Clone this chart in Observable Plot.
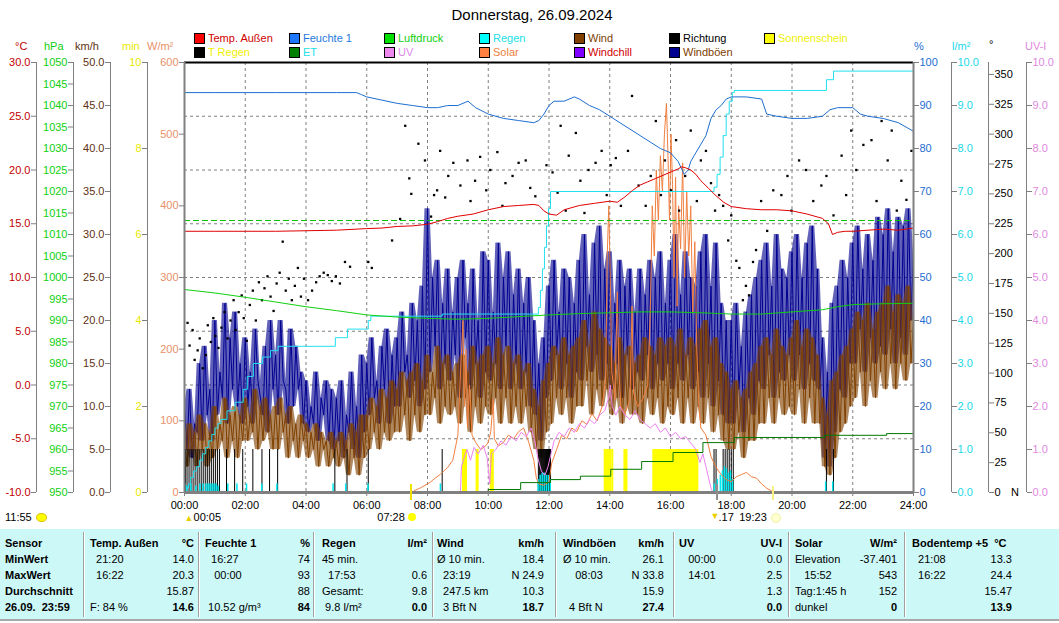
<!DOCTYPE html>
<html><head><meta charset="utf-8">
<script src="https://cdn.jsdelivr.net/npm/d3@7"></script>
<script src="https://cdn.jsdelivr.net/npm/@observablehq/plot@0.6"></script>
<style>
body{margin:0;background:#fff;}
#root{position:relative;width:1059px;height:623px;font-family:"Liberation Sans",Arial,sans-serif;font-size:11px;overflow:hidden;background:#fff;}
#root > svg{position:absolute;left:0;top:0;}
.t{position:absolute;white-space:pre;line-height:14px;}
.sq{position:absolute;width:9px;height:9px;border:1px solid #000;}
</style></head><body><div id="root"></div>
<script>
(function(){
// ---------------- DATA ----------------
const hourTicks = [0,120,240,360,480,600,720,840,960,1080,1200,1320,1440];
const gridHours = [120,240,360,480,600,720,840,960,1080,1200,1320];
const tempTicks = [-10,-5,0,5,10,15,20,25,30];
const gridTemps = [-5,0,5,10,15,20,25];
const hpaTicks = d3.range(950,1051,5);
const kmhTicks = d3.range(0,51,5);
const minTicks = [0,2,4,6,8,10];
const solarTicks = [0,100,200,300,400,500,600];
const humTicks = d3.range(0,101,10);
const rainTicks = d3.range(0,11,1);
const dirTicks = d3.range(0,351,25);
const uvTicks = d3.range(0,11,1);

// temperature [minute, °C]
const temp = [[0,14.3],[60,14.3],[120,14.3],[180,14.3],[240,14.35],[300,14.4],[360,14.55],[390,14.6],[420,14.75],[450,14.8],[480,14.95],[500,15.2],[520,15.5],[540,15.7],[570,15.9],[600,16.3],[630,16.6],[660,16.7],[690,16.8],[700,16.7],[710,16.2],[720,15.9],[735,15.8],[750,16.3],[780,16.7],[810,16.9],[840,17.1],[855,17.0],[870,17.5],[885,18.1],[900,18.6],[915,18.9],[930,19.2],[945,19.5],[960,19.8],[975,20.1],[982,20.3],[990,20.2],[1000,20.0],[1010,19.6],[1020,19.0],[1035,18.3],[1050,17.6],[1065,17.0],[1080,16.6],[1110,16.4],[1140,16.3],[1170,16.3],[1200,16.2],[1230,15.9],[1260,15.5],[1272,15.0],[1280,14.0],[1290,14.2],[1305,14.3],[1320,14.3],[1350,14.4],[1380,14.5],[1410,14.4],[1440,14.6]];
// humidity [minute, %]
const hum = [[0,93],[60,93],[120,93],[180,93],[240,93],[300,93],[340,93],[350,92.5],[360,92],[380,91.5],[400,91],[420,90.5],[450,90],[480,89.5],[500,89.5],[520,90],[540,90],[560,91],[575,89.5],[600,88],[630,87],[660,86.5],[690,86],[700,86.5],[710,88],[720,90],[730,91],[750,91],[770,92],[780,91.5],[800,90],[820,89],[840,87.5],[860,86],[880,84.5],[900,83],[920,81.5],[940,80],[960,79],[975,77],[987,74],[995,75],[1000,77],[1010,79],[1020,81],[1030,83],[1040,87],[1050,89],[1060,90],[1070,91.5],[1080,92],[1110,92],[1140,91.5],[1150,88],[1170,87.5],[1200,87],[1230,87],[1260,87.5],[1275,89],[1290,89.5],[1320,89.5],[1335,88],[1350,87.5],[1380,87],[1410,86],[1440,84]];
// pressure [minute, hPa]
const press = [[0,997.2],[60,996.4],[120,995.4],[180,994.3],[240,993.2],[300,992.3],[360,991.3],[420,990.8],[480,990.5],[540,990.3],[600,990.5],[660,990.9],[720,991.3],[780,991.6],[840,991.8],[900,992.0],[960,992.0],[1020,991.8],[1080,991.5],[1140,991.5],[1200,992.0],[1260,992.5],[1290,993.2],[1320,993.7],[1380,993.9],[1440,994.0]];
const stdPressure = [1013.25];
// cumulative rain [minute, l/m²]
const rainSum = [[0,0],[4,0.1],[8,0.2],[12,0.35],[18,0.5],[24,0.6],[30,0.75],[36,0.9],[42,1.05],[48,1.2],[54,1.35],[60,1.5],[66,1.6],[72,1.7],[84,1.9],[100,2.1],[116,2.4],[124,2.7],[136,3.0],[154,3.15],[170,3.3],[185,3.4],[298,3.6],[322,3.8],[363,4.0],[368,4.1],[509,4.15],[699,4.3],[703,4.7],[707,5.2],[711,5.7],[715,6.2],[719,6.6],[723,7.0],[1046,7.1],[1052,7.4],[1058,7.8],[1064,8.3],[1070,8.8],[1076,9.1],[1082,9.3],[1086,9.35],[1268,9.6],[1282,9.8],[1440,9.8]];
// rain per interval [minute, l/m²]
const rainBars = [[0,0.2],[4,0.15],[12,0.2],[22,0.15],[30,0.2],[36,0.2],[42,0.2],[46,0.2],[50,0.2],[54,0.2],[58,0.2],[62,0.2],[66,0.15],[85,0.2],[103,0.2],[122,0.2],[152,0.2],[182,0.2],[293,0.2],[318,0.2],[362,0.2],[505,0.2],[698,0.3],[702,0.4],[706,0.45],[710,0.45],[714,0.4],[718,0.4],[722,0.3],[1046,0.2],[1052,0.3],[1058,0.4],[1062,0.5],[1066,0.6],[1070,0.55],[1074,0.45],[1078,0.5],[1082,0.3],[1266,0.25],[1280,0.25]];
// rain minutes (T Regen)
const rainMinutes = [2,5,9,13,17,21,25,29,33,37,41,45,49,53,57,61,65,69,83,99,115,135,153,168,184,297,321,363,509,699,701,703,705,707,709,711,713,715,717,719,721,723,1046,1050,1064,1068,1072,1076,1080,1084,1268,1282];
// evapotranspiration [minute, l/m²]
const et = [[0,0],[539,0],[600,0.07],[664,0.23],[723,0.30],[782,0.38],[842,0.54],[903,0.72],[965,0.93],[1024,1.16],[1086,1.28],[1264,1.33],[1387,1.37],[1440,1.37]];
// sunshine intervals [start, end] minutes (1 min per minute)
const sunStart = [549,576,604,829,844,868,925];
const sunEnd   = [559,582,612,844,848,876,1016];
// solar radiation [minute, W/m²]
const solar = [[0,0],[448,0],[455,3],[465,6],[475,10],[485,14],[495,20],[505,25],[512,30],[520,35],[530,45],[540,80],[546,180],[550,240],[553,120],[556,200],[559,90],[563,150],[568,80],[575,70],[585,60],[595,65],[600,70],[605,85],[610,130],[612,75],[620,65],[630,70],[640,80],[650,75],[660,85],[670,90],[680,70],[690,45],[695,20],[700,12],[710,10],[720,15],[725,40],[735,60],[745,80],[755,75],[765,90],[775,85],[785,100],[795,95],[805,110],[815,100],[825,120],[832,160],[835,330],[838,400],[841,300],[844,170],[850,130],[855,280],[858,170],[862,120],[870,110],[880,130],[884,260],[887,140],[895,120],[905,130],[915,150],[920,250],[924,400],[928,330],[932,450],[936,380],[940,470],[944,420],[948,500],[952,543],[955,470],[958,380],[961,500],[964,430],[967,300],[970,440],[973,260],[976,400],[980,340],[984,460],[988,300],[992,420],[996,330],[1000,400],[1004,250],[1008,350],[1012,200],[1016,120],[1020,90],[1030,80],[1040,50],[1050,35],[1060,25],[1070,18],[1080,15],[1090,22],[1100,25],[1110,28],[1120,22],[1130,20],[1140,12],[1150,6],[1160,2],[1163,0],[1440,0]];
// UV index [minute, UV-I]
const uv = [[545,0],[547,0.6],[552,0.8],[558,1.0],[565,0.75],[572,1.05],[580,0.9],[590,1.1],[598,0.8],[603,0.2],[606,0.9],[615,1.0],[625,1.2],[635,1.1],[645,1.3],[655,1.2],[665,1.4],[675,1.3],[685,1.5],[692,1.2],[698,0.8],[705,0.5],[712,0.4],[718,0.6],[724,0.9],[730,1.2],[740,1.4],[750,1.3],[760,1.5],[770,1.4],[780,1.6],[790,1.5],[800,1.7],[810,1.6],[820,1.8],[830,1.9],[838,2.2],[841,2.5],[845,2.0],[852,1.8],[860,2.0],[870,1.8],[880,1.7],[890,1.9],[900,1.7],[910,1.6],[920,1.5],[930,1.6],[940,1.4],[950,1.5],[960,1.3],[970,1.4],[980,1.25],[990,1.3],[1000,1.15],[1010,1.0],[1018,0.7],[1024,0.9],[1030,0.6],[1036,0.3],[1040,0.1],[1044,0]];
// wind direction [minute, degrees]
const dir = [[6,142],[10,123],[16,136],[20,111],[26,119],[30,129],[36,104],[42,115],[46,140],[52,126],[57,146],[61,131],[67,121],[73,138],[79,151],[85,129],[91,144],[97,161],[101,136],[107,151],[113,165],[117,146],[123,127],[129,157],[135,169],[141,144],[147,176],[153,161],[158,171],[164,181],[170,164],[176,152],[182,175],[188,184],[194,210],[200,169],[206,179],[212,161],[218,173],[224,188],[230,164],[236,179],[244,161],[252,169],[260,176],[267,181],[275,184],[283,182],[291,177],[299,181],[307,175],[317,193],[327,189],[363,193],[370,188],[410,211],[426,229],
[436,307],[444,263],[448,250],[462,292],[475,278],[487,231],[493,249],[499,253],[505,286],[515,247],[521,265],[531,276],[545,257],[559,278],[565,244],[574,261],[584,281],[596,253],[604,270],[618,285],[628,240],[634,259],[648,265],[660,276],[674,278],[683,255],[693,248],[715,274],[727,268],[737,251],[743,307],[753,236],[759,282],[773,301],[782,261],[790,234],[798,270],[812,276],[824,286],[834,249],[842,274],[852,280],[862,240],[876,286],[884,332],[897,257],[911,240],[921,265],[931,311],[941,249],[949,278],[961,253],[971,295],[977,236],[989,265],[1000,303],[1012,244],[1020,278],[1030,286],[1040,259],[1048,236],[1056,249],[1064,240],[1074,211],[1080,232],[1090,194],[1096,188],[1103,161],[1109,173],[1115,165],[1123,193],[1129,203],[1139,244],[1151,219],[1163,253],[1179,249],[1191,265],[1199,236],[1214,278],[1228,270],[1242,244],[1258,257],[1268,265],[1282,232],[1298,282],[1307,249],[1317,303],[1327,270],[1341,291],[1357,295],[1367,244],[1377,311],[1389,278],[1397,303],[1407,236],[1416,261],[1426,245],[1436,286]];
// wind and gusts, km/h, one value every 5 minutes from 00:00 to 24:00
const windStep = 5;
const windKmh = [
6,3,8,5,7,3,9,5,8,3,7,4,
10,5,8,6,11,4,9,6,10,4,9,6,
11,6,9,7,12,5,10,6,11,7,9,5,
10,5,11,7,9,4,10,6,8,4,9,6,
8,4,7,5,8,3,7,5,6,3,7,4,
6,3,7,4,6,2,8,4,7,2,9,4,
9,5,11,7,10,5,12,7,11,6,13,7,
12,7,14,9,13,6,14,9,15,7,13,9,
16,9,14,11,17,8,15,10,16,9,14,10,
15,8,16,11,14,7,17,10,15,8,16,10,
17,9,15,11,18,8,16,11,17,8,15,10,
16,8,14,10,15,7,12,5,10,4,13,7,
15,8,17,11,16,9,18,11,16,8,17,10,
18,10,20,13,17,9,21,12,19,10,18,12,
17,9,15,11,18,8,16,10,17,9,15,9,
16,8,18,11,17,9,16,11,18,8,17,10,
18,9,17,11,19,8,16,11,18,8,17,10,
19,8,20,11,17,7,18,9,15,6,14,5,
12,5,13,7,11,4,12,6,14,6,15,8,
17,8,18,11,16,8,19,11,17,9,16,10,
18,9,20,12,17,8,19,11,18,8,16,8,
11,3,9,2,13,4,14,7,16,8,17,10,
19,11,21,14,20,10,22,13,19,11,21,14,
22,12,24,15,21,12,23,15,22,13,24,15,
20];
const gustKmh = [
10,5,12,4,8,7,15,6,17,9,12,6,
20,9,14,11,22,8,18,12,21,10,15,8,
18,10,14,8,19,13,11,9,17,7,20,12,
16,9,20,13,12,8,19,10,17,12,14,8,
13,7,10,8,14,6,11,9,13,6,12,5,
11,6,13,4,9,7,14,5,10,4,16,7,
15,9,18,11,13,8,17,12,19,8,16,10,
18,10,21,14,16,11,22,13,20,10,24,12,
33,14,25,17,27,12,22,15,26,13,21,16,
25,11,27,18,22,12,26,15,20,11,28,14,
27,13,21,15,29,12,25,17,28,12,23,15,
26,12,22,14,25,10,20,9,15,6,18,11,
24,13,27,16,21,12,26,15,25,11,22,14,
27,13,30,17,23,14,29,16,31,13,26,15,
28,12,22,15,27,11,24,16,26,12,21,14,
26,13,23,16,27,12,25,15,28,13,22,15,
27,12,30,15,23,13,28,16,25,12,24,14,
28,11,30,15,24,10,29,13,22,9,20,8,
20,8,22,12,17,7,21,11,23,9,25,13,
27,12,29,16,24,11,30,14,26,13,25,16,
28,13,30,16,25,12,29,15,31,13,26,12,
18,4,14,3,22,7,24,12,27,11,25,15,
29,15,31,19,26,14,30,18,27,15,32,17,
30,16,33,19,28,15,32,18,31,16,33,20,
28];

// legend
const legendNames = ["Temp. Außen","Feuchte 1","Luftdruck","Regen","Wind","Richtung","Sonnenschein","T Regen","ET","UV","Solar","Windchill","Windböen"];
const legendBox = ["#ff0000","#1e78ff","#00e000","#00ffff","#804000","#000000","#ffff00","#000000","#008000","#ee88ee","#ff8040","#8000ff","#000090"];
const legendText = ["#d00000","#1e78e0","#10d010","#20e0e8","#804000","#000000","#f0f000","#f0f000","#20e0e8","#e088e8","#f08040","#d00000","#804000"];

// table
const tblHead = ["Sensor","Temp. Außen","Feuchte 1","Regen","Wind","Windböen","UV","Solar","Bodentemp +5  °C"];
const tblUnit = ["","°C","%","l/m²","km/h","km/h","UV-I","W/m²",""];
const tblLeft = [
 ["MinWert","MaxWert","Durchschnitt","26.09.  23:59"],
 ["  21:20","  16:22","","F: 84 %"],
 ["  16:27","   00:00",""," 10.52 g/m³"],
 ["45 min.","  17:53","Gesamt:"," 9.8 l/m²"],
 ["Ø 10 min.","  23:19","  247.5 km","  3 Bft N"],
 ["Ø 10 min.","    08:03","","  4 Bft N"],
 ["   00:00","   14:01","",""],
 ["Elevation","   15:52","Tag:1:45 h","dunkel"],
 ["  21:08","  16:22","",""]];
const tblRight = [
 ["","","",""],
 ["14.0","20.3","15.87","14.6"],
 ["74","93","88","84"],
 ["","0.6","9.8","0.0"],
 ["18.4","N 24.9","10.3","18.7"],
 ["26.1","N 33.8","15.9","27.4"],
 ["0.0","2.5","1.3","0.0"],
 ["-37.401","543","152","0"],
 ["13.3","24.4","15.47","13.9"]];

// ---------------- LAYOUT ----------------
const W = 1059, H = 623;
const root = document.getElementById("root");
const FONT = "'Liberation Sans', Arial, sans-serif";
const GRAY = "#808080";
const hhmm = m => String(Math.floor(m/60)).padStart(2,"0") + ":" + String(m%60).padStart(2,"0");

function layer(domain, marks) {
  const svg = Plot.plot({
    width: W, height: H, marginTop: 62, marginBottom: 131, marginLeft: 184, marginRight: 146,
    x: {domain: [0, 1440], axis: null},
    y: {domain, axis: null},
    style: {background: "transparent", fontFamily: FONT, fontSize: "11px", color: "black"},
    marks
  });
  root.appendChild(svg);
  return svg;
}
function yAxis(ticks, fmt, side, dx, fill, line = true) {
  const m = [Plot.axisY(ticks, {anchor: side, dx, tickSize: 5, tickPadding: 1, tickFormat: fmt, stroke: GRAY, fill, label: null, fontSize: 11})];
  if (line) m.unshift(Plot.ruleX([side === "left" ? 0 : 1440], {dx, stroke: GRAY, strokeWidth: 1}));
  return m;
}
const f1 = d => d.toFixed(1), f0 = d => String(d);
// envelope of neighbouring readings, used to shade the dense wind traces
const envelope = (arr, f) => arr.map((d, i) => f(arr[Math.max(0, i - 1)], d, arr[Math.min(arr.length - 1, i + 1)]));
const gustLo = envelope(gustKmh, Math.min), gustHi = envelope(gustKmh, Math.max);
const windLo = envelope(windKmh, Math.min), windHi = envelope(windKmh, Math.max);

// grid
layer([-10, 30], [
  Plot.ruleX(gridHours, {stroke: GRAY, strokeDasharray: "3,3"}),
  Plot.ruleY(gridTemps, {stroke: GRAY, strokeDasharray: "3,3"})
]);
// gusts & wind (km/h)
layer([0, 50], [
  Plot.areaY(gustKmh, {x: (d, i) => i * windStep, y1: (d, i) => gustLo[i], y2: (d, i) => gustHi[i], fill: "#000090", fillOpacity: 0.62}),
  Plot.line(gustKmh, {x: (d, i) => i * windStep, y: d => d, stroke: "#000090", strokeWidth: 1}),
  Plot.areaY(windKmh, {x: (d, i) => i * windStep, y1: (d, i) => windLo[i], y2: (d, i) => windHi[i], fill: "#804000", fillOpacity: 0.62}),
  Plot.line(windKmh, {x: (d, i) => i * windStep, y: d => d, stroke: "#804000", strokeWidth: 1}),
  ...yAxis(kmhTicks, f1, "left", -74, "#603010")
]);
// sunshine + rain minutes (min scale)
layer([0, 10], [
  Plot.rect(sunStart, {x1: d => d, x2: (d, i) => sunEnd[i], y1: 0, y2: 1, fill: "#ffff00"}),
  Plot.ruleX(rainMinutes, {y1: 0, y2: 1, stroke: "black", strokeWidth: 1}),
  ...yAxis(minTicks, f0, "left", -37, "#e8e800")
]);
// rain bars (l/m²)
layer([0, 10], [
  Plot.rect(rainBars, {x1: d => d[0], x2: d => d[0] + 3, y1: 0, y2: d => d[1], fill: "#00e8f0"})
]);
// solar
layer([0, 600], [
  Plot.line(solar, {x: d => d[0], y: d => d[1], stroke: "#f08040", strokeWidth: 1}),
  ...yAxis(solarTicks, f0, "left", 0, "#e8906a", false)
]);
// UV
layer([0, 10], [
  Plot.line(uv, {x: d => d[0], y: d => d[1], stroke: "#ee82ee", strokeWidth: 1}),
  ...yAxis(uvTicks, f1, "right", 113, "#e088e0")
]);
// direction
layer([0, 360], [
  Plot.dot(dir, {x: d => d[0], y: d => d[1], symbol: "square", r: 1.3, fill: "black", stroke: "none"}),
  ...yAxis(dirTicks, f0, "right", 75, "black")
]);
// ET + cumulative rain
layer([0, 10], [
  Plot.line(et, {x: d => d[0], y: d => d[1], curve: "step-after", stroke: "#007800", strokeWidth: 1}),
  Plot.line(rainSum, {x: d => d[0], y: d => d[1], curve: "step-after", stroke: "#20e0f0", strokeWidth: 1}),
  ...yAxis(rainTicks, f1, "right", 38, "#20d8e8")
]);
// pressure
layer([950, 1050], [
  Plot.ruleY(stdPressure, {stroke: "#00c000", strokeDasharray: "6,3"}),
  Plot.line(press, {x: d => d[0], y: d => d[1], stroke: "#10d010", strokeWidth: 1}),
  ...yAxis(hpaTicks, f0, "left", -111, "#10d010")
]);
// humidity
layer([0, 100], [
  Plot.line(hum, {x: d => d[0], y: d => d[1], stroke: "#1e6ed2", strokeWidth: 1}),
  ...yAxis(humTicks, f0, "right", 0, "#1e6ed2", false)
]);
// temperature + frame + time axis
const mainLayer = layer([-10, 30], [
  Plot.line(temp, {x: d => d[0], y: d => d[1], stroke: "#e00000", strokeWidth: 1}),
  ...yAxis(tempTicks, f1, "left", -148, "#c00000"),
  Plot.ruleY([30], {stroke: "black", strokeWidth: 2}),
  Plot.ruleY([-10], {stroke: GRAY, strokeWidth: 3}),
  Plot.ruleX([0], {stroke: GRAY, strokeWidth: 2}),
  Plot.ruleX([1440], {stroke: GRAY, strokeWidth: 2}),
  Plot.axisX(hourTicks, {anchor: "bottom", tickSize: 4, tickPadding: 5, tickFormat: hhmm, stroke: GRAY, fill: "black", label: null, fontSize: 11})
]);
const xs = mainLayer.scale("x");

// ---------------- TEXT OVERLAYS ----------------
function txt(s, x, y, o = {}) {
  const el = document.createElement("div");
  el.className = "t";
  el.textContent = s;
  el.style.top = (y - 7) + "px";
  if (o.right) el.style.right = (W - x) + "px"; else el.style.left = x + "px";
  if (o.center) el.style.transform = "translateX(-50%)";
  if (o.color) el.style.color = o.color;
  if (o.bold) el.style.fontWeight = "bold";
  if (o.size) el.style.fontSize = o.size + "px";
  root.appendChild(el);
  return el;
}
function box(x, y, w, h, css) {
  const el = document.createElement("div");
  el.style.position = "absolute";
  el.style.left = x + "px"; el.style.top = y + "px";
  el.style.width = w + "px"; el.style.height = h + "px";
  Object.assign(el.style, css);
  root.appendChild(el);
  return el;
}

txt("Donnerstag, 26.09.2024", 532, 15, {center: true, size: 15});

// legend
legendNames.forEach((n, i) => {
  const col = i < 7 ? i : i - 7, row = i < 7 ? 0 : 1;
  const x = 194 + col * 95, y = 38 + row * 14;
  const b = document.createElement("div");
  b.className = "sq"; b.style.left = x + "px"; b.style.top = (y - 5) + "px"; b.style.background = legendBox[i];
  root.appendChild(b);
  txt(n, x + 14, y, {color: legendText[i]});
});

// axis units
txt("°C", 15, 46, {color: "#c00000"});
txt("hPa", 44, 46, {color: "#10d010"});
txt("km/h", 75, 46, {color: "#603010"});
txt("min", 122, 46, {color: "#e8e800"});
txt("W/m²", 147, 46, {color: "#e8906a"});
txt("%", 914, 46, {color: "#1e6ed2"});
txt("l/m²", 952, 46, {color: "#20d8e8"});
txt("°", 989, 44, {color: "black"});
txt("UV-I", 1025, 46, {color: "#e088e0"});
txt("N", 1011, 492, {color: "black"});

// sun / moon markers
txt("11:55", 5, 517);
box(36, 513, 9, 7, {background: "#ffff00", borderRadius: "50%", border: "1px solid #e0c000"});
txt("▲", xs.apply(5) - 2, 518, {color: "#e8d000", size: 9});
txt("00:05", xs.apply(5) + 7, 517);
txt("07:28", xs.apply(448) - 6, 517, {right: true});
box(xs.apply(448) - 3, 513, 8, 8, {background: "#ffff00", borderRadius: "50%"});
box(xs.apply(448) - 1, 484, 2, 16, {background: "#f0e000"});
box(xs.apply(1052) - 1, 484, 2, 16, {background: "#909090"});
txt("▼", xs.apply(1052) - 6, 516, {color: "#e8d000", size: 9});
txt(".17", xs.apply(1052) + 2, 517);
txt("19:23", xs.apply(1163) - 6, 517, {right: true});
box(xs.apply(1163) - 1, 486, 2, 14, {background: "#f8f080"});
box(xs.apply(1163) - 2, 513, 8, 8, {background: "#ffffd0", borderRadius: "50%", border: "1px solid #f0f0a0"});

// ---------------- TABLE ----------------
box(0, 529, W, 90, {background: "#ccf8f8"});
box(0, 619, W, 2, {background: "#a8a8a8"});
const sepX = [83, 198, 313, 432, 555, 673, 788, 904];
sepX.forEach(x => { box(x, 532, 1, 85, {background: "#a0a0a0"}); box(x + 1, 532, 1, 85, {background: "#ffffff"}); });
const colLeft = [5, 90, 205, 322, 437, 563, 679, 795, 912];
const colRight = [0, 194, 310, 427, 544, 664, 782, 897, 1012];
const rowY = [543, 559, 575, 591, 607];
tblHead.forEach((h, c) => {
  txt(h, colLeft[c], rowY[0], {bold: true});
  if (tblUnit[c]) txt(tblUnit[c], colRight[c], rowY[0], {bold: true, right: true});
  tblLeft[c].forEach((s, r) => { if (s) txt(s, colLeft[c], rowY[r + 1], {bold: c === 0}); });
  tblRight[c].forEach((s, r) => { if (s) txt(s, colRight[c], rowY[r + 1], {right: true, bold: r === 3}); });
});
})();
</script></body></html>
